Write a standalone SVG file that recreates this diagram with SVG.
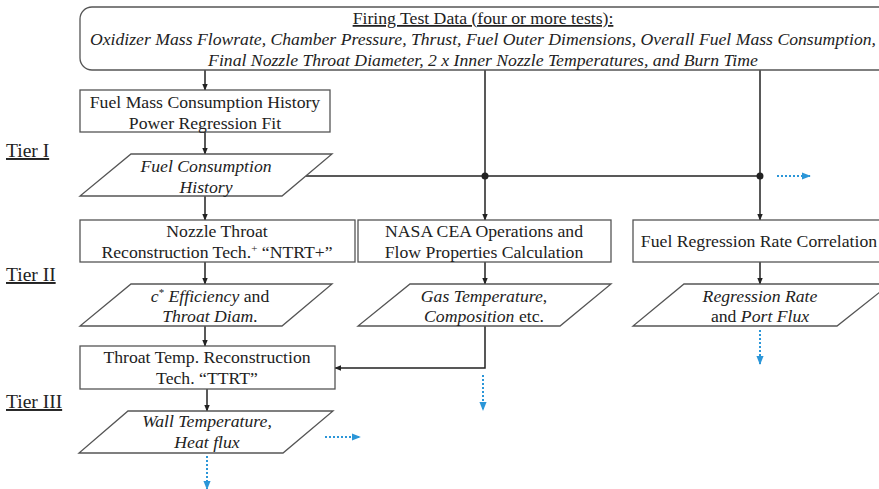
<svg xmlns="http://www.w3.org/2000/svg" width="879" height="489" viewBox="0 0 879 489">
<defs>
<marker id="ah" viewBox="0 0 10 10" refX="9" refY="5" markerWidth="7" markerHeight="7" markerUnits="userSpaceOnUse" orient="auto"><path d="M0,1 L10,5 L0,9 z" fill="#222"/></marker>
<marker id="bh" viewBox="0 0 10 10" refX="9" refY="5" markerWidth="9" markerHeight="9" markerUnits="userSpaceOnUse" orient="auto"><path d="M0,1 L10,5 L0,9 z" fill="#2b96d8"/></marker>
<style>
.box{fill:#fff;stroke:#555;stroke-width:1.3}
.t{font-family:"Liberation Serif","Times New Roman",serif;font-size:17.7px;fill:#222;text-anchor:middle}
.i{font-style:italic}
.tier{font-family:"Liberation Serif","Times New Roman",serif;font-size:19.5px;fill:#222;text-decoration:underline}
.c{fill:none;stroke:#222;stroke-width:1.5}
.b{fill:none;stroke:#2b96d8;stroke-width:2;stroke-dasharray:2 2}
</style>
</defs>
<g id="tiers">
<text class="tier" x="6" y="157">Tier I</text>
<text class="tier" x="6" y="281">Tier II</text>
<text class="tier" x="6" y="408">Tier III</text>
</g>
<g id="connectors">
<line class="c" x1="205" y1="70" x2="205" y2="90" marker-end="url(#ah)"/>
<line class="c" x1="205" y1="132" x2="205" y2="154" marker-end="url(#ah)"/>
<line class="c" x1="306" y1="176" x2="760" y2="176"/>
<line class="c" x1="485" y1="70" x2="485" y2="220" marker-end="url(#ah)"/>
<line class="c" x1="760" y1="70" x2="760" y2="220" marker-end="url(#ah)"/>
<circle cx="485" cy="176" r="3.5" fill="#222"/>
<circle cx="760" cy="176" r="3.5" fill="#222"/>
<line class="c" x1="205" y1="196" x2="205" y2="220" marker-end="url(#ah)"/>
<line class="c" x1="205" y1="262" x2="205" y2="284" marker-end="url(#ah)"/>
<line class="c" x1="485" y1="262" x2="485" y2="284" marker-end="url(#ah)"/>
<line class="c" x1="760" y1="262" x2="760" y2="284" marker-end="url(#ah)"/>
<line class="c" x1="205" y1="326" x2="205" y2="346" marker-end="url(#ah)"/>
<polyline class="c" points="485,326 485,368 335,368" marker-end="url(#ah)"/>
<line class="c" x1="207" y1="389" x2="207" y2="411" marker-end="url(#ah)"/>
<line class="b" x1="777" y1="176" x2="810" y2="176" marker-end="url(#bh)"/>
<line class="b" x1="760" y1="330" x2="760" y2="364" marker-end="url(#bh)"/>
<line class="b" x1="483" y1="375" x2="483" y2="410" marker-end="url(#bh)"/>
<line class="b" x1="325" y1="437" x2="360" y2="437" marker-end="url(#bh)"/>
<line class="b" x1="207" y1="456" x2="207" y2="489" marker-end="url(#bh)"/>
</g>
<g id="firing-test-data">
<rect class="box" x="80" y="7" width="812" height="63" rx="12"/>
<text class="t" x="483" y="24" text-decoration="underline">Firing Test Data (four or more tests):</text>
<text class="t i" x="483" y="45" textLength="786" lengthAdjust="spacingAndGlyphs">Oxidizer Mass Flowrate, Chamber Pressure, Thrust, Fuel Outer Dimensions, Overall Fuel Mass Consumption,</text>
<text class="t i" x="483" y="66">Final Nozzle Throat Diameter, 2 x Inner Nozzle Temperatures, and Burn Time</text>
</g>
<g id="power-regression">
<rect class="box" x="80" y="90" width="250" height="42"/>
<text class="t" x="205" y="108">Fuel Mass Consumption History</text>
<text class="t" x="205" y="129">Power Regression Fit</text>
</g>
<g id="fuel-consumption-history">
<polygon class="box" points="131,154 332,154 282,196 80,196"/>
<text class="t i" x="206" y="172">Fuel Consumption</text>
<text class="t i" x="206" y="193">History</text>
</g>
<g id="ntrt">
<rect class="box" x="80" y="220" width="275" height="42"/>
<text class="t" x="217" y="237">Nozzle Throat</text>
<text class="t" x="217" y="258">Reconstruction Tech.<tspan font-size="11" dy="-6">+</tspan><tspan dy="6"> “NTRT+”</tspan></text>
</g>
<g id="nasa-cea">
<rect class="box" x="358" y="220" width="253" height="42"/>
<text class="t" x="484" y="237">NASA CEA Operations and</text>
<text class="t" x="484" y="258">Flow Properties Calculation</text>
</g>
<g id="regression-correlation">
<rect class="box" x="633" y="220" width="260" height="42"/>
<text class="t" x="759" y="247">Fuel Regression Rate Correlation</text>
</g>
<g id="cstar-efficiency">
<polygon class="box" points="131,284 332,284 282,326 80,326"/>
<text class="t" x="210" y="302"><tspan class="i">c</tspan><tspan font-size="11" dy="-6">*</tspan><tspan class="i" dy="6"> Efficiency</tspan> and</text>
<text class="t i" x="210" y="322">Throat Diam.</text>
</g>
<g id="gas-temperature">
<polygon class="box" points="410,284 611,284 560,326 358,326"/>
<text class="t" x="484" y="302"><tspan class="i">Gas Temperature</tspan>,</text>
<text class="t" x="484" y="322"><tspan class="i">Composition</tspan> etc.</text>
</g>
<g id="regression-rate">
<polygon class="box" points="684,284 890,284 837,326 633,326"/>
<text class="t i" x="760" y="302">Regression Rate</text>
<text class="t" x="760" y="322">and <tspan class="i">Port Flux</tspan></text>
</g>
<g id="ttrt">
<rect class="box" x="80" y="346" width="255" height="43"/>
<text class="t" x="207" y="363">Throat Temp. Reconstruction</text>
<text class="t" x="207" y="384">Tech. “TTRT”</text>
</g>
<g id="wall-temperature">
<polygon class="box" points="128,411 333,411 283,453 79,453"/>
<text class="t i" x="207" y="427">Wall Temperature,</text>
<text class="t i" x="207" y="448">Heat flux</text>
</g>
</svg>
